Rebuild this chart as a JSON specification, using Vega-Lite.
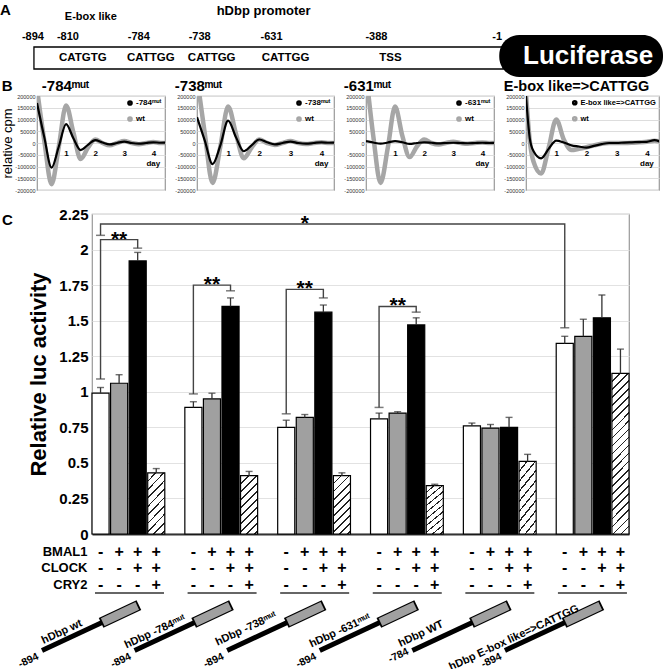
{
"$schema": "https://vega.github.io/schema/vega-lite/v6.json",
"background": "white",
"padding": {"left": 0, "top": 1, "right": 0, "bottom": 0},
"config": {"font": "Liberation Sans", "view": {"stroke": "#999", "strokeWidth": 1.2}, "locale": {"number": {"decimal": ".", "thousands": ",", "grouping": [3], "currency": ["$", ""], "minus": "-"}}},
"datasets": {
"bars": [
{"construct":"hDbp wt","bar":"g1a","cond":"a","value":0.99,"err":1.03},
{"construct":"hDbp wt","bar":"g1b","cond":"b","value":1.06,"err":1.12},
{"construct":"hDbp wt","bar":"g1c","cond":"c","value":1.92,"err":1.98},
{"construct":"hDbp wt","bar":"g1d","cond":"d","value":0.43,"err":0.46},
{"construct":"hDbp -784mut","bar":"g2a","cond":"a","value":0.89,"err":0.93},
{"construct":"hDbp -784mut","bar":"g2b","cond":"b","value":0.95,"err":0.99},
{"construct":"hDbp -784mut","bar":"g2c","cond":"c","value":1.60,"err":1.66},
{"construct":"hDbp -784mut","bar":"g2d","cond":"d","value":0.41,"err":0.44},
{"construct":"hDbp -738mut","bar":"g3a","cond":"a","value":0.75,"err":0.80},
{"construct":"hDbp -738mut","bar":"g3b","cond":"b","value":0.82,"err":0.84},
{"construct":"hDbp -738mut","bar":"g3c","cond":"c","value":1.56,"err":1.61},
{"construct":"hDbp -738mut","bar":"g3d","cond":"d","value":0.41,"err":0.43},
{"construct":"hDbp -631mut","bar":"g4a","cond":"a","value":0.81,"err":0.85},
{"construct":"hDbp -631mut","bar":"g4b","cond":"b","value":0.85,"err":0.86},
{"construct":"hDbp -631mut","bar":"g4c","cond":"c","value":1.47,"err":1.52},
{"construct":"hDbp -631mut","bar":"g4d","cond":"d","value":0.34,"err":0.35},
{"construct":"hDbp WT -784","bar":"g5a","cond":"a","value":0.76,"err":0.78},
{"construct":"hDbp WT -784","bar":"g5b","cond":"b","value":0.745,"err":0.77},
{"construct":"hDbp WT -784","bar":"g5c","cond":"c","value":0.75,"err":0.82},
{"construct":"hDbp WT -784","bar":"g5d","cond":"d","value":0.51,"err":0.56},
{"construct":"hDbp E-box like=>CATTGG","bar":"g6a","cond":"a","value":1.34,"err":1.39},
{"construct":"hDbp E-box like=>CATTGG","bar":"g6b","cond":"b","value":1.39,"err":1.51},
{"construct":"hDbp E-box like=>CATTGG","bar":"g6c","cond":"c","value":1.52,"err":1.68},
{"construct":"hDbp E-box like=>CATTGG","bar":"g6d","cond":"d","value":1.13,"err":1.30}
],
"brackets": [
{"br":"b1","bar":"g1a","value":1.09,"k":0},{"br":"b1","bar":"g1a","value":2.07,"k":1},{"br":"b1","bar":"g1c","value":2.07,"k":2},{"br":"b1","bar":"g1c","value":2.01,"k":3},
{"br":"b2","bar":"g2a","value":0.985,"k":0},{"br":"b2","bar":"g2a","value":1.75,"k":1},{"br":"b2","bar":"g2c","value":1.75,"k":2},{"br":"b2","bar":"g2c","value":1.71,"k":3},
{"br":"b3","bar":"g3a","value":0.845,"k":0},{"br":"b3","bar":"g3a","value":1.72,"k":1},{"br":"b3","bar":"g3c","value":1.72,"k":2},{"br":"b3","bar":"g3c","value":1.66,"k":3},
{"br":"b4","bar":"g4a","value":0.89,"k":0},{"br":"b4","bar":"g4a","value":1.60,"k":1},{"br":"b4","bar":"g4c","value":1.60,"k":2},{"br":"b4","bar":"g4c","value":1.56,"k":3},
{"br":"b5","bar":"g1a","value":2.10,"k":0},{"br":"b5","bar":"g1a","value":2.18,"k":1},{"br":"b5","bar":"g6a","value":2.18,"k":2},{"br":"b5","bar":"g6a","value":1.45,"k":3}
],
"constructs": [
{"name":"hDbp wt","num":"-894","lx1":-2.70,"ly1":-0.819,"lx2":0.54,"ly2":-0.622,"ox1":0.491,"oy1":-0.625,"ox2":2.533,"oy2":-0.500,"gx1":0.578,"gy1":-0.620,"gx2":2.446,"gy2":-0.505,"tx":-1.62,"ty":-0.689,"nx":-2.916,"ny":-0.858,"u1":0.162,"u2":3.888,"uy":-0.415},
{"name":"hDbp -784ᵐᵘᵗ","num":"-894","lx1":2.30,"ly1":-0.819,"lx2":5.54,"ly2":-0.622,"ox1":5.491,"oy1":-0.625,"ox2":7.533,"oy2":-0.500,"gx1":5.578,"gy1":-0.620,"gx2":7.446,"gy2":-0.505,"tx":3.402,"ty":-0.689,"nx":2.085,"ny":-0.858,"u1":5.162,"u2":8.888,"uy":-0.415},
{"name":"hDbp -738ᵐᵘᵗ","num":"-894","lx1":7.30,"ly1":-0.819,"lx2":10.54,"ly2":-0.622,"ox1":10.491,"oy1":-0.625,"ox2":12.533,"oy2":-0.500,"gx1":10.578,"gy1":-0.620,"gx2":12.446,"gy2":-0.505,"tx":8.317,"ty":-0.668,"nx":7.085,"ny":-0.858,"u1":10.162,"u2":13.888,"uy":-0.415},
{"name":"hDbp -631ᵐᵘᵗ","num":"-894","lx1":12.30,"ly1":-0.819,"lx2":15.54,"ly2":-0.622,"ox1":15.491,"oy1":-0.625,"ox2":17.533,"oy2":-0.500,"gx1":15.578,"gy1":-0.620,"gx2":17.446,"gy2":-0.505,"tx":13.393,"ty":-0.682,"nx":12.086,"ny":-0.858,"u1":15.162,"u2":18.888,"uy":-0.415},
{"name":"hDbp WT","num":"-784","lx1":17.30,"ly1":-0.819,"lx2":20.54,"ly2":-0.622,"ox1":20.491,"oy1":-0.625,"ox2":22.533,"oy2":-0.500,"gx1":20.578,"gy1":-0.620,"gx2":22.446,"gy2":-0.505,"tx":17.767,"ty":-0.703,"nx":17.065,"ny":-0.823,"u1":20.162,"u2":23.888,"uy":-0.415},
{"name":"hDbp E-box like=>CATTGG","num":"-894","lx1":22.30,"ly1":-0.819,"lx2":25.54,"ly2":-0.622,"ox1":25.491,"oy1":-0.625,"ox2":27.533,"oy2":-0.500,"gx1":25.578,"gy1":-0.620,"gx2":27.446,"gy2":-0.505,"tx":22.79,"ty":-0.731,"nx":22.088,"ny":-0.858,"u1":25.162,"u2":28.888,"uy":-0.415}
],
"spacer": [{"v": 0}]
},
"spacing": 0,
"vconcat": [
{
"width": 663, "height": 76,
"view": {"stroke": null},
"encoding": {
"x": {"field": "x", "type": "quantitative", "scale": {"domain": [0, 100], "nice": false, "zero": false}, "axis": null},
"y": {"field": "y", "type": "quantitative", "scale": {"domain": [0, 100], "nice": false, "reverse": true}, "axis": null}
},
"layer": [
{"data": {"values": [{"part": "hDbp promoter", "x": 5.12, "x2": 75.9, "y": 60.5, "y2": 89.5}]}, "mark": {"type": "rect", "fill": "white", "stroke": "black", "strokeWidth": 1.3}, "encoding": {"x2": {"field": "x2"}, "y2": {"field": "y2"}}},
{"data": {"values": [{"part": "Luciferase", "x": 75.3, "x2": 100, "y": 44.7, "y2": 100}]}, "mark": {"type": "rect", "fill": "black", "cornerRadius": 20}, "encoding": {"x2": {"field": "x2"}, "y2": {"field": "y2"}}},
{"data": {"values": [{"label": "Luciferase", "x": 88.7, "y": 72.4}]}, "mark": {"type": "text", "color": "white", "fontSize": 26, "fontWeight": "bold", "baseline": "middle"}, "encoding": {"text": {"field": "label"}}},
{"data": {"values": [{"label": "A", "x": 0, "y": 2.6}]}, "mark": {"type": "text", "fontSize": 15, "fontWeight": "bold", "align": "left", "baseline": "top"}, "encoding": {"text": {"field": "label"}}},
{"data": {"values": [{"label": "hDbp promoter", "x": 39.76, "y": 13.8}]}, "mark": {"type": "text", "fontSize": 13, "fontWeight": "bold", "baseline": "middle"}, "encoding": {"text": {"field": "label"}}},
{"data": {"values": [{"label": "E-box like", "x": 13.7, "y": 20.4}]}, "mark": {"type": "text", "fontSize": 11, "fontWeight": "bold", "baseline": "middle"}, "encoding": {"text": {"field": "label"}}},
{"data": {"values": [
{"label": "-894", "x": 4.97, "y": 47.4},{"label": "-810", "x": 10.24, "y": 47.4},{"label": "-784", "x": 20.93, "y": 47.4},{"label": "-738", "x": 30.12, "y": 47.4},{"label": "-631", "x": 40.96, "y": 47.4},{"label": "-388", "x": 56.78, "y": 47.4},{"label": "-1", "x": 75.0, "y": 47.4}
]}, "mark": {"type": "text", "fontSize": 11, "fontWeight": "bold", "baseline": "middle"}, "encoding": {"text": {"field": "label"}}},
{"data": {"values": [
{"label": "CATGTG", "x": 12.5, "y": 75},{"label": "CATTGG", "x": 22.74, "y": 75},{"label": "CATTGG", "x": 31.93, "y": 75},{"label": "CATTGG", "x": 43.07, "y": 75},{"label": "TSS", "x": 58.89, "y": 75}
]}, "mark": {"type": "text", "fontSize": 11.5, "fontWeight": "bold", "baseline": "middle"}, "encoding": {"text": {"field": "label"}}}
]
},
{
"spacing": 11,
"vconcat": [
{
"spacing": 0,
"hconcat": [
{"width": 1, "height": 1, "view": {"stroke": null}, "data": {"name": "spacer"}, "mark": {"type": "point", "opacity": 0, "size": 1}, "encoding": {"x": {"field": "v", "type": "quantitative", "axis": null}, "y": {"field": "v", "type": "quantitative", "axis": null}}},
{
"spacing": 8,
"resolve": {"scale": {"color": "independent", "x": "independent", "y": "independent"}, "legend": {"color": "independent"}},
"hconcat": [
{
"width": 128, "height": 94,
"title": {"text": "B\u00a0\u00a0\u00a0\u00a0\u00a0\u00a0\u00a0-784ᵐᵘᵗ", "anchor": "start", "frame": "bounds", "fontSize": 15, "fontWeight": "bold", "offset": 0},
"data": {"values": [
{"s":"-784ᵐᵘᵗ","t":0,"cpm":170000},{"s":"-784ᵐᵘᵗ","t":0.25,"cpm":25000},{"s":"-784ᵐᵘᵗ","t":0.5,"cpm":-105000},{"s":"-784ᵐᵘᵗ","t":0.75,"cpm":-15000},{"s":"-784ᵐᵘᵗ","t":1,"cpm":80000},{"s":"-784ᵐᵘᵗ","t":1.25,"cpm":20000},{"s":"-784ᵐᵘᵗ","t":1.5,"cpm":-30000},{"s":"-784ᵐᵘᵗ","t":1.75,"cpm":-8000},{"s":"-784ᵐᵘᵗ","t":2,"cpm":12000},{"s":"-784ᵐᵘᵗ","t":2.25,"cpm":2000},{"s":"-784ᵐᵘᵗ","t":2.5,"cpm":-6000},{"s":"-784ᵐᵘᵗ","t":2.75,"cpm":0},{"s":"-784ᵐᵘᵗ","t":3,"cpm":6000},{"s":"-784ᵐᵘᵗ","t":3.25,"cpm":0},{"s":"-784ᵐᵘᵗ","t":3.5,"cpm":-3000},{"s":"-784ᵐᵘᵗ","t":3.75,"cpm":0},{"s":"-784ᵐᵘᵗ","t":4,"cpm":3000},{"s":"-784ᵐᵘᵗ","t":4.25,"cpm":1000},{"s":"-784ᵐᵘᵗ","t":4.5,"cpm":2000},
{"s":"wt","t":0,"cpm":230000},{"s":"wt","t":0.25,"cpm":10000},{"s":"wt","t":0.5,"cpm":-175000},{"s":"wt","t":0.75,"cpm":-15000},{"s":"wt","t":1,"cpm":160000},{"s":"wt","t":1.25,"cpm":45000},{"s":"wt","t":1.5,"cpm":-68000},{"s":"wt","t":1.75,"cpm":-20000},{"s":"wt","t":2,"cpm":15000},{"s":"wt","t":2.25,"cpm":0},{"s":"wt","t":2.5,"cpm":-10000},{"s":"wt","t":2.75,"cpm":0},{"s":"wt","t":3,"cpm":8000},{"s":"wt","t":3.25,"cpm":0},{"s":"wt","t":3.5,"cpm":-5000},{"s":"wt","t":3.75,"cpm":0},{"s":"wt","t":4,"cpm":4000},{"s":"wt","t":4.25,"cpm":0},{"s":"wt","t":4.5,"cpm":1000}
]},
"encoding": {
"x": {"field": "t", "type": "quantitative", "scale": {"domain": [0, 4.4], "nice": false}, "axis": {"values": [1,2,3,4], "orient": "bottom", "offset": -42, "domain": false, "ticks": false, "grid": false, "labelFontSize": 8, "labelFontWeight": "bold", "labelPadding": 1, "labelColor": "black", "title": null}},
"y": {"field": "cpm", "type": "quantitative", "scale": {"domain": [-200000, 200000], "nice": false}, "axis": {"values": [-200000,-150000,-100000,-50000,0,50000,100000,150000,200000], "format": "d", "labelFontSize": 5.5, "labelColor": "#333", "grid": true, "gridColor": "#ddd", "domain": false, "ticks": false, "labelPadding": 2, "title": "relative cpm", "titleFontSize": 13, "titleFontWeight": "normal", "titlePadding": 0, "titleColor": "black"}},
"color": {"field": "s", "type": "nominal", "scale": {"domain": ["-784ᵐᵘᵗ", "wt"], "range": ["#000000", "#a6a6a6"]}, "legend": {"title": null, "orient": "top-right", "offset": 2, "padding": 1, "symbolType": "circle", "symbolSize": 10, "symbolStrokeWidth": 2.5, "labelFontSize": 8, "labelFontWeight": "bold", "labelColor": "black", "rowPadding": 2, "labelOffset": 2}}
},
"layer": [
{"transform": [{"filter": "datum.s == 'wt'"}], "mark": {"type": "line", "interpolate": "monotone", "strokeWidth": 4.5, "clip": true}},
{"transform": [{"filter": "datum.s != 'wt'"}], "mark": {"type": "line", "interpolate": "monotone", "strokeWidth": 2.2, "clip": true}},
{"data": {"values": [{"t": 4, "cpm": -88000, "label": "day"}]}, "mark": {"type": "text", "fontSize": 8, "fontWeight": "bold", "baseline": "middle"}, "encoding": {"text": {"field": "label"}, "color": {"value": "black"}}}
]
},
{
"width": 137, "height": 94,
"title": {"text": "-738ᵐᵘᵗ", "anchor": "start", "frame": "bounds", "fontSize": 15, "fontWeight": "bold", "offset": 0},
"data": {"values": [
{"s":"-738ᵐᵘᵗ","t":0,"cpm":110000},{"s":"-738ᵐᵘᵗ","t":0.25,"cpm":10000},{"s":"-738ᵐᵘᵗ","t":0.5,"cpm":-90000},{"s":"-738ᵐᵘᵗ","t":0.75,"cpm":-10000},{"s":"-738ᵐᵘᵗ","t":1,"cpm":95000},{"s":"-738ᵐᵘᵗ","t":1.25,"cpm":25000},{"s":"-738ᵐᵘᵗ","t":1.5,"cpm":-35000},{"s":"-738ᵐᵘᵗ","t":1.75,"cpm":-10000},{"s":"-738ᵐᵘᵗ","t":2,"cpm":15000},{"s":"-738ᵐᵘᵗ","t":2.25,"cpm":3000},{"s":"-738ᵐᵘᵗ","t":2.5,"cpm":-6000},{"s":"-738ᵐᵘᵗ","t":2.75,"cpm":0},{"s":"-738ᵐᵘᵗ","t":3,"cpm":6000},{"s":"-738ᵐᵘᵗ","t":3.25,"cpm":0},{"s":"-738ᵐᵘᵗ","t":3.5,"cpm":-3000},{"s":"-738ᵐᵘᵗ","t":3.75,"cpm":0},{"s":"-738ᵐᵘᵗ","t":4,"cpm":3000},{"s":"-738ᵐᵘᵗ","t":4.25,"cpm":1000},{"s":"-738ᵐᵘᵗ","t":4.5,"cpm":2000},
{"s":"wt","t":0,"cpm":280000},{"s":"wt","t":0.25,"cpm":40000},{"s":"wt","t":0.5,"cpm":-170000},{"s":"wt","t":0.75,"cpm":-15000},{"s":"wt","t":1,"cpm":155000},{"s":"wt","t":1.25,"cpm":40000},{"s":"wt","t":1.5,"cpm":-65000},{"s":"wt","t":1.75,"cpm":-20000},{"s":"wt","t":2,"cpm":15000},{"s":"wt","t":2.25,"cpm":0},{"s":"wt","t":2.5,"cpm":-8000},{"s":"wt","t":2.75,"cpm":0},{"s":"wt","t":3,"cpm":8000},{"s":"wt","t":3.25,"cpm":0},{"s":"wt","t":3.5,"cpm":-4000},{"s":"wt","t":3.75,"cpm":0},{"s":"wt","t":4,"cpm":3000},{"s":"wt","t":4.25,"cpm":0},{"s":"wt","t":4.5,"cpm":1000}
]},
"encoding": {
"x": {"field": "t", "type": "quantitative", "scale": {"domain": [0, 4.4], "nice": false}, "axis": {"values": [1,2,3,4], "orient": "bottom", "offset": -42, "domain": false, "ticks": false, "grid": false, "labelFontSize": 8, "labelFontWeight": "bold", "labelPadding": 1, "labelColor": "black", "title": null}},
"y": {"field": "cpm", "type": "quantitative", "scale": {"domain": [-200000, 200000], "nice": false}, "axis": {"values": [-200000,-150000,-100000,-50000,0,50000,100000,150000,200000], "format": "d", "labelFontSize": 5.5, "labelColor": "#333", "grid": true, "gridColor": "#ddd", "domain": false, "ticks": false, "labelPadding": 2, "title": null}},
"color": {"field": "s", "type": "nominal", "scale": {"domain": ["-738ᵐᵘᵗ", "wt"], "range": ["#000000", "#a6a6a6"]}, "legend": {"title": null, "orient": "top-right", "offset": 2, "padding": 1, "symbolType": "circle", "symbolSize": 10, "symbolStrokeWidth": 2.5, "labelFontSize": 8, "labelFontWeight": "bold", "labelColor": "black", "rowPadding": 2, "labelOffset": 2}}
},
"layer": [
{"transform": [{"filter": "datum.s == 'wt'"}], "mark": {"type": "line", "interpolate": "monotone", "strokeWidth": 4.5, "clip": true}},
{"transform": [{"filter": "datum.s != 'wt'"}], "mark": {"type": "line", "interpolate": "monotone", "strokeWidth": 2.2, "clip": true}},
{"data": {"values": [{"t": 4, "cpm": -88000, "label": "day"}]}, "mark": {"type": "text", "fontSize": 8, "fontWeight": "bold", "baseline": "middle"}, "encoding": {"text": {"field": "label"}, "color": {"value": "black"}}}
]
},
{
"width": 128, "height": 94,
"title": {"text": "-631ᵐᵘᵗ", "anchor": "start", "frame": "bounds", "fontSize": 15, "fontWeight": "bold", "offset": 0},
"data": {"values": [
{"s":"-631ᵐᵘᵗ","t":0,"cpm":8000},{"s":"-631ᵐᵘᵗ","t":0.25,"cpm":2000},{"s":"-631ᵐᵘᵗ","t":0.5,"cpm":-3000},{"s":"-631ᵐᵘᵗ","t":0.75,"cpm":2000},{"s":"-631ᵐᵘᵗ","t":1,"cpm":8000},{"s":"-631ᵐᵘᵗ","t":1.25,"cpm":3000},{"s":"-631ᵐᵘᵗ","t":1.5,"cpm":-4000},{"s":"-631ᵐᵘᵗ","t":1.75,"cpm":0},{"s":"-631ᵐᵘᵗ","t":2,"cpm":3000},{"s":"-631ᵐᵘᵗ","t":2.25,"cpm":1000},{"s":"-631ᵐᵘᵗ","t":2.5,"cpm":-2000},{"s":"-631ᵐᵘᵗ","t":2.75,"cpm":0},{"s":"-631ᵐᵘᵗ","t":3,"cpm":1000},{"s":"-631ᵐᵘᵗ","t":3.25,"cpm":0},{"s":"-631ᵐᵘᵗ","t":3.5,"cpm":-1000},{"s":"-631ᵐᵘᵗ","t":3.75,"cpm":0},{"s":"-631ᵐᵘᵗ","t":4,"cpm":1000},{"s":"-631ᵐᵘᵗ","t":4.25,"cpm":0},{"s":"-631ᵐᵘᵗ","t":4.5,"cpm":500},
{"s":"wt","t":0,"cpm":300000},{"s":"wt","t":0.25,"cpm":30000},{"s":"wt","t":0.5,"cpm":-170000},{"s":"wt","t":0.75,"cpm":-20000},{"s":"wt","t":1,"cpm":155000},{"s":"wt","t":1.25,"cpm":30000},{"s":"wt","t":1.5,"cpm":-60000},{"s":"wt","t":1.75,"cpm":-15000},{"s":"wt","t":2,"cpm":15000},{"s":"wt","t":2.25,"cpm":0},{"s":"wt","t":2.5,"cpm":-6000},{"s":"wt","t":2.75,"cpm":0},{"s":"wt","t":3,"cpm":5000},{"s":"wt","t":3.25,"cpm":0},{"s":"wt","t":3.5,"cpm":-3000},{"s":"wt","t":3.75,"cpm":0},{"s":"wt","t":4,"cpm":2000},{"s":"wt","t":4.25,"cpm":0},{"s":"wt","t":4.5,"cpm":1000}
]},
"encoding": {
"x": {"field": "t", "type": "quantitative", "scale": {"domain": [0, 4.4], "nice": false}, "axis": {"values": [1,2,3,4], "orient": "bottom", "offset": -42, "domain": false, "ticks": false, "grid": false, "labelFontSize": 8, "labelFontWeight": "bold", "labelPadding": 1, "labelColor": "black", "title": null}},
"y": {"field": "cpm", "type": "quantitative", "scale": {"domain": [-200000, 200000], "nice": false}, "axis": {"values": [-200000,-150000,-100000,-50000,0,50000,100000,150000,200000], "format": "d", "labelFontSize": 5.5, "labelColor": "#333", "grid": true, "gridColor": "#ddd", "domain": false, "ticks": false, "labelPadding": 2, "title": null}},
"color": {"field": "s", "type": "nominal", "scale": {"domain": ["-631ᵐᵘᵗ", "wt"], "range": ["#000000", "#a6a6a6"]}, "legend": {"title": null, "orient": "top-right", "offset": 2, "padding": 1, "symbolType": "circle", "symbolSize": 10, "symbolStrokeWidth": 2.5, "labelFontSize": 8, "labelFontWeight": "bold", "labelColor": "black", "rowPadding": 2, "labelOffset": 2}}
},
"layer": [
{"transform": [{"filter": "datum.s == 'wt'"}], "mark": {"type": "line", "interpolate": "monotone", "strokeWidth": 4.5, "clip": true}},
{"transform": [{"filter": "datum.s != 'wt'"}], "mark": {"type": "line", "interpolate": "monotone", "strokeWidth": 2.2, "clip": true}},
{"data": {"values": [{"t": 4, "cpm": -88000, "label": "day"}]}, "mark": {"type": "text", "fontSize": 8, "fontWeight": "bold", "baseline": "middle"}, "encoding": {"text": {"field": "label"}, "color": {"value": "black"}}}
]
},
{
"width": 133, "height": 94,
"title": {"text": "E-box like=>CATTGG", "anchor": "start", "frame": "bounds", "fontSize": 14.5, "fontWeight": "bold", "offset": 0},
"data": {"values": [
{"s":"E-box like=>CATTGG","t":0,"cpm":200000},{"s":"E-box like=>CATTGG","t":0.125,"cpm":20000},{"s":"E-box like=>CATTGG","t":0.25,"cpm":-35000},{"s":"E-box like=>CATTGG","t":0.5,"cpm":-65000},{"s":"E-box like=>CATTGG","t":0.75,"cpm":-25000},{"s":"E-box like=>CATTGG","t":1,"cpm":10000},{"s":"E-box like=>CATTGG","t":1.25,"cpm":2000},{"s":"E-box like=>CATTGG","t":1.5,"cpm":-10000},{"s":"E-box like=>CATTGG","t":1.75,"cpm":-15000},{"s":"E-box like=>CATTGG","t":2,"cpm":-20000},{"s":"E-box like=>CATTGG","t":2.25,"cpm":-12000},{"s":"E-box like=>CATTGG","t":2.5,"cpm":-5000},{"s":"E-box like=>CATTGG","t":2.75,"cpm":0},{"s":"E-box like=>CATTGG","t":3,"cpm":0},{"s":"E-box like=>CATTGG","t":3.25,"cpm":2000},{"s":"E-box like=>CATTGG","t":3.5,"cpm":3000},{"s":"E-box like=>CATTGG","t":3.75,"cpm":4000},{"s":"E-box like=>CATTGG","t":4,"cpm":5000},{"s":"E-box like=>CATTGG","t":4.25,"cpm":12000},{"s":"E-box like=>CATTGG","t":4.5,"cpm":2000},
{"s":"wt","t":0,"cpm":210000},{"s":"wt","t":0.125,"cpm":10000},{"s":"wt","t":0.25,"cpm":-80000},{"s":"wt","t":0.5,"cpm":-130000},{"s":"wt","t":0.75,"cpm":-20000},{"s":"wt","t":1,"cpm":100000},{"s":"wt","t":1.25,"cpm":15000},{"s":"wt","t":1.5,"cpm":-30000},{"s":"wt","t":1.75,"cpm":-25000},{"s":"wt","t":2,"cpm":-18000},{"s":"wt","t":2.25,"cpm":-10000},{"s":"wt","t":2.5,"cpm":-3000},{"s":"wt","t":2.75,"cpm":0},{"s":"wt","t":3,"cpm":0},{"s":"wt","t":3.25,"cpm":0},{"s":"wt","t":3.5,"cpm":1000},{"s":"wt","t":3.75,"cpm":3000},{"s":"wt","t":4,"cpm":5000},{"s":"wt","t":4.25,"cpm":10000},{"s":"wt","t":4.5,"cpm":5000}
]},
"encoding": {
"x": {"field": "t", "type": "quantitative", "scale": {"domain": [0, 4.4], "nice": false}, "axis": {"values": [1,2,3,4], "orient": "bottom", "offset": -42, "domain": false, "ticks": false, "grid": false, "labelFontSize": 8, "labelFontWeight": "bold", "labelPadding": 1, "labelColor": "black", "title": null}},
"y": {"field": "cpm", "type": "quantitative", "scale": {"domain": [-200000, 200000], "nice": false}, "axis": {"values": [-200000,-150000,-100000,-50000,0,50000,100000,150000,200000], "format": "d", "labelFontSize": 5.5, "labelColor": "#333", "grid": true, "gridColor": "#ddd", "domain": false, "ticks": false, "labelPadding": 2, "title": null}},
"color": {"field": "s", "type": "nominal", "scale": {"domain": ["E-box like=>CATTGG", "wt"], "range": ["#000000", "#a6a6a6"]}, "legend": {"title": null, "orient": "top-right", "offset": 2, "padding": 1, "symbolType": "circle", "symbolSize": 10, "symbolStrokeWidth": 2.5, "labelFontSize": 7.5, "labelFontWeight": "bold", "labelColor": "black", "rowPadding": 2, "labelOffset": 2}}
},
"layer": [
{"transform": [{"filter": "datum.s == 'wt'"}], "mark": {"type": "line", "interpolate": "monotone", "strokeWidth": 4.5, "clip": true}},
{"transform": [{"filter": "datum.s != 'wt'"}], "mark": {"type": "line", "interpolate": "monotone", "strokeWidth": 2.2, "clip": true}},
{"data": {"values": [{"t": 4, "cpm": -88000, "label": "day"}]}, "mark": {"type": "text", "fontSize": 8, "fontWeight": "bold", "baseline": "middle"}, "encoding": {"text": {"field": "label"}, "color": {"value": "black"}}}
]
}
]
}
]
},
{
"spacing": 0,
"hconcat": [
{"width": 1, "height": 1, "view": {"stroke": null}, "data": {"name": "spacer"}, "mark": {"type": "point", "opacity": 0, "size": 1}, "encoding": {"x": {"field": "v", "type": "quantitative", "axis": null}, "y": {"field": "v", "type": "quantitative", "axis": null}}},
{
"width": 537, "height": 320,
"resolve": {"scale": {"x": "independent", "y": "independent"}},
"layer": [
{
"encoding": {
"x": {"field": "bar", "type": "nominal", "scale": {"domain": ["g1a","g1b","g1c","g1d","s1","g2a","g2b","g2c","g2d","s2","g3a","g3b","g3c","g3d","s3","g4a","g4b","g4c","g4d","s4","g5a","g5b","g5c","g5d","s5","g6a","g6b","g6c","g6d"], "paddingInner": 0.08, "paddingOuter": 0},
"axis": {"labelExpr": "slice(datum.value, -1) == 'a' ? ['-', '-', '-'] : slice(datum.value, -1) == 'b' ? ['+', '-', '-'] : slice(datum.value, -1) == 'c' ? ['+', '+', '-'] : slice(datum.value, -1) == 'd' ? ['+', '+', '+'] : ''", "labelFontSize": 16, "labelFontWeight": "bold", "labelLineHeight": 16.5, "labelBaseline": "top", "labelPadding": 9, "labelAngle": 0, "labelColor": "black", "ticks": false, "tickSize": 0, "domainColor": "#333", "domainWidth": 2, "grid": false,
"title": ["BMAL1", "CLOCK", "CRY2"], "titleFontSize": 13, "titleFontWeight": "bold", "titleLineHeight": 16.5, "titleAlign": "right", "titleBaseline": "top", "titleX": -5, "titleY": 11, "titleColor": "black"}},
"y": {"field": "value", "type": "quantitative", "title": "Relative luc activity", "scale": {"domain": [0, 2.25], "nice": false}, "axis": {"values": [0,0.25,0.5,0.75,1,1.25,1.5,1.75,2,2.25], "labelExpr": "toString(datum.value)", "labelOverlap": false, "titleFontSize": 22, "titleFontWeight": "bold", "titlePadding": 8, "titleColor": "black", "labelFontSize": 15, "labelFontWeight": "bold", "labelColor": "black", "labelPadding": 4, "domain": false, "ticks": false, "grid": true, "gridColor": "#e2e2e2"}}
},
"layer": [
{"data": {"name": "bars"}, "mark": {"type": "bar", "stroke": "black", "strokeWidth": 1.2},
"encoding": {
"fill": {
"condition": [
{"test": "datum.bar == 'g6d'", "value": {"gradient": "linear", "x1": 0, "y1": 0, "x2": 0.117, "y2": 1.0945, "stops": [
{"offset":0,"color":"#fff"},
{"offset":0.041,"color":"#fff"},{"offset":0.041,"color":"#222"},{"offset":0.050,"color":"#222"},{"offset":0.050,"color":"#fff"},
{"offset":0.086,"color":"#fff"},{"offset":0.086,"color":"#222"},{"offset":0.095,"color":"#222"},{"offset":0.095,"color":"#fff"},
{"offset":0.132,"color":"#fff"},{"offset":0.132,"color":"#222"},{"offset":0.141,"color":"#222"},{"offset":0.141,"color":"#fff"},
{"offset":0.177,"color":"#fff"},{"offset":0.177,"color":"#222"},{"offset":0.186,"color":"#222"},{"offset":0.186,"color":"#fff"},
{"offset":0.223,"color":"#fff"},{"offset":0.223,"color":"#222"},{"offset":0.232,"color":"#222"},{"offset":0.232,"color":"#fff"},
{"offset":0.268,"color":"#fff"},{"offset":0.268,"color":"#222"},{"offset":0.277,"color":"#222"},{"offset":0.277,"color":"#fff"},
{"offset":0.314,"color":"#fff"},{"offset":0.314,"color":"#222"},{"offset":0.323,"color":"#222"},{"offset":0.323,"color":"#fff"},
{"offset":0.359,"color":"#fff"},{"offset":0.359,"color":"#222"},{"offset":0.368,"color":"#222"},{"offset":0.368,"color":"#fff"},
{"offset":0.405,"color":"#fff"},{"offset":0.405,"color":"#222"},{"offset":0.414,"color":"#222"},{"offset":0.414,"color":"#fff"},
{"offset":0.450,"color":"#fff"},{"offset":0.450,"color":"#222"},{"offset":0.459,"color":"#222"},{"offset":0.459,"color":"#fff"},
{"offset":0.495,"color":"#fff"},{"offset":0.495,"color":"#222"},{"offset":0.505,"color":"#222"},{"offset":0.505,"color":"#fff"},
{"offset":0.541,"color":"#fff"},{"offset":0.541,"color":"#222"},{"offset":0.550,"color":"#222"},{"offset":0.550,"color":"#fff"},
{"offset":0.586,"color":"#fff"},{"offset":0.586,"color":"#222"},{"offset":0.595,"color":"#222"},{"offset":0.595,"color":"#fff"},
{"offset":0.632,"color":"#fff"},{"offset":0.632,"color":"#222"},{"offset":0.641,"color":"#222"},{"offset":0.641,"color":"#fff"},
{"offset":0.677,"color":"#fff"},{"offset":0.677,"color":"#222"},{"offset":0.686,"color":"#222"},{"offset":0.686,"color":"#fff"},
{"offset":0.723,"color":"#fff"},{"offset":0.723,"color":"#222"},{"offset":0.732,"color":"#222"},{"offset":0.732,"color":"#fff"},
{"offset":0.768,"color":"#fff"},{"offset":0.768,"color":"#222"},{"offset":0.777,"color":"#222"},{"offset":0.777,"color":"#fff"},
{"offset":0.814,"color":"#fff"},{"offset":0.814,"color":"#222"},{"offset":0.823,"color":"#222"},{"offset":0.823,"color":"#fff"},
{"offset":0.859,"color":"#fff"},{"offset":0.859,"color":"#222"},{"offset":0.868,"color":"#222"},{"offset":0.868,"color":"#fff"},
{"offset":0.905,"color":"#fff"},{"offset":0.905,"color":"#222"},{"offset":0.914,"color":"#222"},{"offset":0.914,"color":"#fff"},
{"offset":0.950,"color":"#fff"},{"offset":0.950,"color":"#222"},{"offset":0.959,"color":"#222"},{"offset":0.959,"color":"#fff"},
{"offset":1,"color":"#fff"}]}},
{"test": "datum.cond == 'd'", "value": {"gradient": "linear", "x1": 0, "y1": 0, "x2": 0.349, "y2": 1.191, "stops": [
{"offset":0,"color":"#fff"},
{"offset":0.096,"color":"#fff"},{"offset":0.096,"color":"#222"},{"offset":0.117,"color":"#222"},{"offset":0.117,"color":"#fff"},
{"offset":0.203,"color":"#fff"},{"offset":0.203,"color":"#222"},{"offset":0.224,"color":"#222"},{"offset":0.224,"color":"#fff"},
{"offset":0.309,"color":"#fff"},{"offset":0.309,"color":"#222"},{"offset":0.331,"color":"#222"},{"offset":0.331,"color":"#fff"},
{"offset":0.416,"color":"#fff"},{"offset":0.416,"color":"#222"},{"offset":0.437,"color":"#222"},{"offset":0.437,"color":"#fff"},
{"offset":0.523,"color":"#fff"},{"offset":0.523,"color":"#222"},{"offset":0.544,"color":"#222"},{"offset":0.544,"color":"#fff"},
{"offset":0.629,"color":"#fff"},{"offset":0.629,"color":"#222"},{"offset":0.651,"color":"#222"},{"offset":0.651,"color":"#fff"},
{"offset":0.736,"color":"#fff"},{"offset":0.736,"color":"#222"},{"offset":0.757,"color":"#222"},{"offset":0.757,"color":"#fff"},
{"offset":0.843,"color":"#fff"},{"offset":0.843,"color":"#222"},{"offset":0.864,"color":"#222"},{"offset":0.864,"color":"#fff"},
{"offset":0.949,"color":"#fff"},{"offset":0.949,"color":"#222"},{"offset":0.971,"color":"#222"},{"offset":0.971,"color":"#fff"},
{"offset":1,"color":"#fff"}]}}
],
"field": "cond", "type": "nominal", "scale": {"domain": ["a","b","c","d"], "range": ["#ffffff","#a0a0a0","#000000","#ffffff"]}, "legend": null}
}},
{"data": {"name": "bars"}, "mark": {"type": "rule", "color": "#333", "strokeWidth": 1.3},
"encoding": {"y2": {"field": "err"}}},
{"data": {"name": "bars"}, "mark": {"type": "tick", "color": "#333", "size": 7, "thickness": 1.4},
"encoding": {"y": {"field": "err", "type": "quantitative", "title": "Relative luc activity", "scale": {"domain": [0, 2.25], "nice": false}, "axis": {"values": [0,0.25,0.5,0.75,1,1.25,1.5,1.75,2,2.25], "labelExpr": "toString(datum.value)", "labelOverlap": false, "titleFontSize": 22, "titleFontWeight": "bold", "titlePadding": 8, "titleColor": "black", "labelFontSize": 15, "labelFontWeight": "bold", "labelColor": "black", "labelPadding": 4, "domain": false, "ticks": false, "grid": true, "gridColor": "#e2e2e2"}}}},
{"data": {"name": "brackets"}, "mark": {"type": "line", "color": "#444", "strokeWidth": 1.4},
"encoding": {"detail": {"field": "br"}, "order": {"field": "k", "type": "quantitative"}}},
{"data": {"name": "brackets"}, "transform": [{"filter": "datum.k == 0 || datum.k == 3"}], "mark": {"type": "tick", "color": "#444", "size": 9, "thickness": 1.5}},
{"data": {"values": [{"bar": "g1b", "value": 2.07, "s": "**"}, {"bar": "g2b", "value": 1.75, "s": "**"}, {"bar": "g3b", "value": 1.72, "s": "**"}, {"bar": "g4b", "value": 1.60, "s": "**"}, {"bar": "g3b", "value": 2.18, "s": "*"}]},
"mark": {"type": "text", "fontSize": 21, "fontWeight": "bold", "baseline": "alphabetic", "dy": 6},
"encoding": {"text": {"field": "s"}}}
]
},
{
"layer": [
{"data": {"values": [{"label": "C", "x": -4.86, "y": 2.257}]}, "mark": {"type": "text", "fontSize": 15, "fontWeight": "bold", "align": "left", "baseline": "top"},
"encoding": {"x": {"field": "x", "type": "quantitative", "scale": {"domain": [0, 29], "nice": false, "zero": false}, "axis": null}, "y": {"field": "y", "type": "quantitative", "scale": {"domain": [0, 2.25], "nice": false}, "axis": null}, "text": {"field": "label"}}},
{"data": {"name": "constructs"}, "mark": {"type": "rule", "color": "#666", "strokeWidth": 2},
"encoding": {"x": {"field": "u1", "type": "quantitative", "scale": {"domain": [0, 29], "nice": false, "zero": false}, "axis": null}, "x2": {"field": "u2"}, "y": {"field": "uy", "type": "quantitative", "scale": {"domain": [0, 2.25], "nice": false}, "axis": null}}},
{"data": {"name": "constructs"}, "mark": {"type": "rule", "color": "black", "strokeWidth": 5, "strokeCap": "butt"},
"encoding": {"x": {"field": "lx1", "type": "quantitative", "scale": {"domain": [0, 29], "nice": false, "zero": false}, "axis": null}, "x2": {"field": "lx2"}, "y": {"field": "ly1", "type": "quantitative", "scale": {"domain": [0, 2.25], "nice": false}, "axis": null}, "y2": {"field": "ly2"}}},
{"data": {"name": "constructs"}, "mark": {"type": "rule", "color": "black", "strokeWidth": 11, "strokeCap": "butt"},
"encoding": {"x": {"field": "ox1", "type": "quantitative", "scale": {"domain": [0, 29], "nice": false, "zero": false}, "axis": null}, "x2": {"field": "ox2"}, "y": {"field": "oy1", "type": "quantitative", "scale": {"domain": [0, 2.25], "nice": false}, "axis": null}, "y2": {"field": "oy2"}}},
{"data": {"name": "constructs"}, "mark": {"type": "rule", "color": "#a0a0a0", "strokeWidth": 8.5, "strokeCap": "butt"},
"encoding": {"x": {"field": "gx1", "type": "quantitative", "scale": {"domain": [0, 29], "nice": false, "zero": false}, "axis": null}, "x2": {"field": "gx2"}, "y": {"field": "gy1", "type": "quantitative", "scale": {"domain": [0, 2.25], "nice": false}, "axis": null}, "y2": {"field": "gy2"}}},
{"data": {"name": "constructs"}, "mark": {"type": "text", "fontSize": 11, "fontWeight": "bold", "angle": -25, "baseline": "middle"},
"encoding": {"x": {"field": "tx", "type": "quantitative", "scale": {"domain": [0, 29], "nice": false, "zero": false}, "axis": null}, "y": {"field": "ty", "type": "quantitative", "scale": {"domain": [0, 2.25], "nice": false}, "axis": null}, "text": {"field": "name"}}},
{"data": {"name": "constructs"}, "mark": {"type": "text", "fontSize": 10.5, "fontWeight": "bold", "angle": -25, "align": "right", "baseline": "middle"},
"encoding": {"x": {"field": "nx", "type": "quantitative", "scale": {"domain": [0, 29], "nice": false, "zero": false}, "axis": null}, "y": {"field": "ny", "type": "quantitative", "scale": {"domain": [0, 2.25], "nice": false}, "axis": null}, "text": {"field": "num"}}}
]
}
]
}
]
}
]
}
]
}
